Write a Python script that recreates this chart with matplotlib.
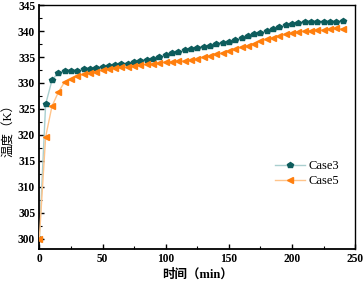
import matplotlib
matplotlib.use("Agg")
import matplotlib.pyplot as plt
from matplotlib.ticker import MultipleLocator

time_min = list(range(0, 245, 5))
case3 = [300.0, 325.9, 330.5, 332.0, 332.3, 332.3, 332.3, 332.6, 332.7, 332.9,
         333.1, 333.2, 333.4, 333.6, 333.7, 334.0, 334.3, 334.5, 334.7, 335.0,
         335.3, 335.7, 335.9, 336.3, 336.6, 336.8, 337.0, 337.1, 337.5, 337.7,
         337.9, 338.3, 338.7, 339.0, 339.4, 339.7, 340.0, 340.4, 340.8, 341.1,
         341.3, 341.5, 341.7, 341.7, 341.7, 341.8, 341.7, 341.7, 341.9]
case5 = [300.0, 319.6, 325.5, 328.2, 330.2, 330.7, 331.3, 331.7, 332.0, 332.2,
         332.5, 332.7, 332.9, 333.0, 333.1, 333.3, 333.4, 333.6, 333.7, 333.9,
         334.0, 334.1, 334.3, 334.2, 334.4, 334.6, 335.0, 335.2, 335.5, 335.8,
         336.2, 336.5, 336.9, 337.2, 337.6, 338.1, 338.4, 338.7, 339.0, 339.4,
         339.6, 339.9, 340.0, 340.1, 340.2, 340.2, 340.4, 340.5, 340.4]
series_names = ["Case3", "Case5"]
x_label = "时间（min）"
y_label = "温度（K）"

serif = ["Liberation Serif", "Noto Sans CJK SC"]
plt.rcParams["font.family"] = serif

fig = plt.figure(figsize=(3.64, 2.85), dpi=100)
ax = fig.add_axes([0.108, 0.126, 0.868, 0.856])

ax.plot(time_min, case3, color="#a9cfcf", lw=1.0, marker="p", ms=4.2,
        mfc="#0d5c5c", mec="#0d5c5c", label=series_names[0], zorder=2)
ax.plot(time_min, case5, color="#ffc48a", lw=1.0, marker="<", ms=4.2,
        mfc="#ff7f0e", mec="#ff7f0e", label=series_names[1], zorder=3)

ax.set_xlim(0, 250)
ax.set_ylim(298, 345)
ax.xaxis.set_major_locator(MultipleLocator(50))
ax.xaxis.set_minor_locator(MultipleLocator(25))
ax.yaxis.set_major_locator(MultipleLocator(5))
ax.yaxis.set_minor_locator(MultipleLocator(2.5))
ax.tick_params(which="both", direction="in", top=False, right=False)
ax.tick_params(which="major", length=3.5, width=1.0, labelsize=8.3, pad=3)
ax.tick_params(which="minor", length=2, width=0.8)
for lbl in ax.get_xticklabels() + ax.get_yticklabels():
    lbl.set_fontweight("bold")
for s in ["left", "bottom"]:
    ax.spines[s].set_linewidth(1.3)
for s in ["top", "right"]:
    ax.spines[s].set_linewidth(1.0)

ax.set_xlabel(x_label, fontsize=9, fontweight="bold", labelpad=2)
ax.set_ylabel(y_label, fontsize=9, labelpad=2)

leg = ax.legend(loc="center right", bbox_to_anchor=(0.985, 0.31), frameon=False,
                fontsize=9, handlelength=2.4, handletextpad=0.3, labelspacing=0.25)

fig.savefig("out.png", dpi=100)
